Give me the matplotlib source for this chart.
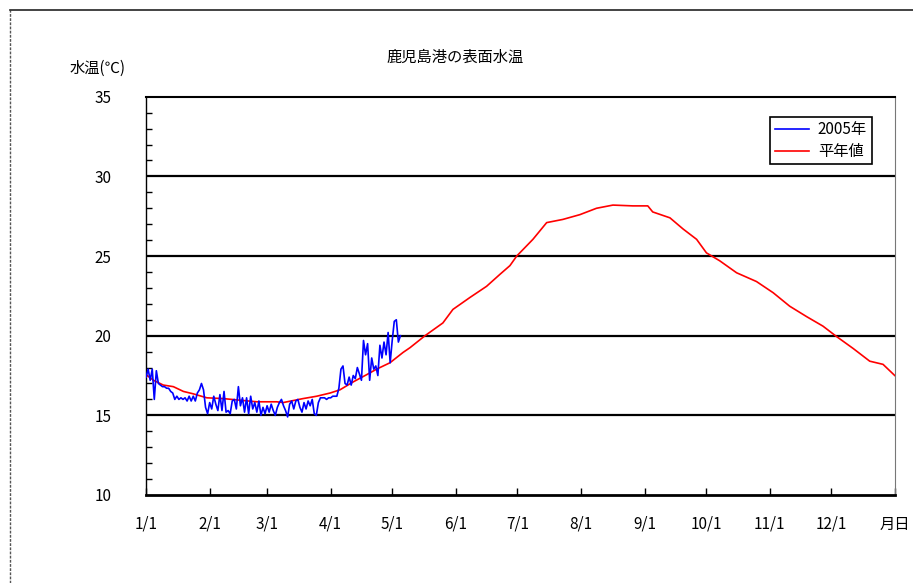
import matplotlib
matplotlib.use('Agg')
import matplotlib.pyplot as plt
import numpy as np
from matplotlib.lines import Line2D

plt.rcParams['font.family'] = ['Noto Sans CJK JP', 'DejaVu Sans']

# Month ticks (day of year, 1/1 = 0), last tick is the axis label
tick_days = [0, 31, 59, 90, 120, 151, 181, 212, 243, 273, 304, 334, 365]
tick_labels = ['1/1', '2/1', '3/1', '4/1', '5/1', '6/1', '7/1', '8/1',
               '9/1', '10/1', '11/1', '12/1', '月日']

# 2005 daily water temperature from 1/1
temp_2005 = [17.4, 17.9, 17.2, 17.9, 16.0, 17.8, 17.0, 16.9, 16.8, 16.8,
             16.7, 16.7, 16.5, 16.4, 16.0, 16.2, 16.0, 16.1, 16.0, 16.1,
             15.9, 16.2, 15.9, 16.2, 15.9, 16.4, 16.6, 17.0, 16.6, 15.5,
             15.1, 15.8, 15.4, 16.2, 15.7, 15.3, 16.3, 15.3, 16.5, 15.2,
             15.3, 15.1, 15.9, 16.0, 15.4, 16.8, 15.6, 16.1, 15.2, 16.1,
             15.1, 16.2, 15.4, 15.8, 15.2, 15.9, 15.0, 15.5, 15.1, 15.6,
             15.2, 15.7, 15.3, 15.0, 15.5, 15.8, 16.0, 15.6, 15.3, 14.9,
             15.7, 15.9, 15.4, 15.9, 16.0, 15.5, 15.2, 15.8, 15.4, 15.9,
             15.6, 16.0, 15.1, 15.0, 15.8, 16.1, 16.1, 16.1, 16.0, 16.1,
             16.1, 16.2, 16.2, 16.2, 16.7, 17.9, 18.1, 17.0, 16.9, 17.4,
             16.9, 17.5, 17.3, 18.0, 17.6, 17.2, 19.7, 18.8, 19.5, 17.2,
             18.6, 17.9, 18.1, 17.5, 19.4, 18.6, 19.6, 18.8, 20.2, 18.3,
             19.7, 20.9, 21.0, 19.6, 20.0]
days_2005 = np.arange(len(temp_2005))

# Normal (平年値) curve
normal_days = [0, 3.6, 8.4, 13.3, 18.2, 23, 29.6, 37.7, 45.8, 54, 63.7, 66.8,
               76.5, 83.2, 89.7, 94.5, 101, 107.5, 112.4, 118.9, 125.3, 128.7,
               136, 144.7, 149.6, 157.9, 166, 172.5, 177.4, 180.7, 188.6, 195.3,
               203.2, 211.5, 219.6, 227.6, 237.3, 244.6, 247, 255.4, 261.8,
               268.4, 273.2, 279.7, 287.9, 297.6, 305.7, 313.8, 322, 330,
               336.6, 344.7, 352.8, 359.3, 365]
normal_temp = [17.55, 17.2, 16.9, 16.8, 16.5, 16.35, 16.1, 16.05, 15.95, 15.85,
               15.85, 15.8, 16.05, 16.2, 16.4, 16.6, 17.1, 17.55, 17.9, 18.3,
               18.95, 19.25, 20.0, 20.8, 21.65, 22.4, 23.1, 23.85, 24.4, 25.0,
               26.05, 27.1, 27.3, 27.6, 28.0, 28.2, 28.15, 28.15, 27.77, 27.4,
               26.7, 26.05, 25.2, 24.7, 23.95, 23.4, 22.7, 21.85, 21.2, 20.6,
               19.95, 19.2, 18.4, 18.2, 17.5]

fig = plt.figure(figsize=(9.13, 5.83), dpi=100)
ax = fig.add_axes([0.160, 0.151, 0.820, 0.683])

# chart area border (left and top only visible)
fig.add_artist(Line2D([0.011, 0.011], [0, 0.983], transform=fig.transFigure,
                      color='#555555', lw=1, linestyle=(0, (2, 1))))
fig.add_artist(Line2D([0.011, 1], [0.983, 0.983], transform=fig.transFigure,
                      color='#222222', lw=1.2))

for g in [15, 20, 25, 30]:
    ax.axhline(g, color='black', lw=1.6, zorder=1)

ax.plot(days_2005, temp_2005, color='#0000ff', lw=1.2, label='2005年', zorder=3)
ax.plot(normal_days, normal_temp, color='#ff0000', lw=1.2, label='平年値', zorder=2)

ax.set_xlim(0, 365)
ax.set_ylim(10, 35)
ax.set_xticks(tick_days)
ax.set_xticklabels(tick_labels)
ax.set_yticks([10, 15, 20, 25, 30, 35])
ax.set_yticks(np.arange(10, 36, 1), minor=True)
ax.tick_params(axis='x', direction='in', length=5, width=1, pad=15, labelsize=11)
ax.tick_params(axis='y', which='major', direction='in', length=0, pad=25, labelsize=11)
ax.tick_params(axis='y', which='minor', direction='in', length=4, width=1)

ax.spines['bottom'].set_linewidth(2)
ax.spines['top'].set_linewidth(1.5)
ax.spines['left'].set_linewidth(1)
ax.spines['right'].set_color('#777777')
ax.spines['right'].set_linestyle((0, (2, 1)))

fig.text(0.498, 0.902, '鹿児島港の表面水温', ha='center', va='center', fontsize=11)
fig.text(0.107, 0.883, '水温(℃)', ha='center', va='center', fontsize=11)

leg = ax.legend(loc='upper right', bbox_to_anchor=(0.969, 0.950), fontsize=11,
                frameon=True, fancybox=False, framealpha=1, edgecolor='black',
                handlelength=2.2, borderpad=0.3, labelspacing=0.3,
                handletextpad=0.6, borderaxespad=0)
leg.get_frame().set_linewidth(1.2)

plt.savefig('out.png', dpi=100)
